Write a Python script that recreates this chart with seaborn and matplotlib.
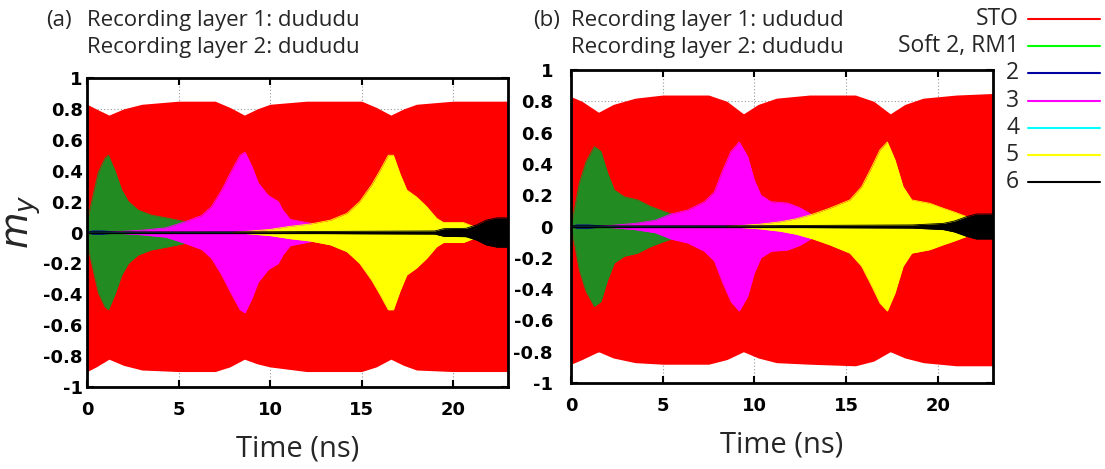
import numpy as np
import matplotlib
matplotlib.use("Agg")
import matplotlib.pyplot as plt
from matplotlib.lines import Line2D
import seaborn as sns

# Envelopes (upper edge) of the fast oscillations.
# Coloured traces are symmetric around 0, so the lower edge is -upper.

# ---- panel (a): layer 1 dududu / layer 2 dududu ----
t_sto_a = [0, 0.5, 1.2, 2, 3, 5, 7, 7.8, 8.6, 9.3, 10, 12, 15, 15.8, 16.6, 17.3, 18, 20, 23]
sto_up_a = [0.83, 0.80, 0.76, 0.80, 0.83, 0.85, 0.85, 0.81, 0.76, 0.80, 0.83, 0.85, 0.85, 0.81, 0.76, 0.80, 0.83, 0.85, 0.85]
sto_lo_a = [-0.90, -0.87, -0.82, -0.86, -0.89, -0.90, -0.90, -0.87, -0.82, -0.85, -0.87, -0.90, -0.90, -0.87, -0.82, -0.86, -0.89, -0.90, -0.90]

t_rm1_a = [0, 0.07, 0.35, 0.62, 0.98, 1.17, 1.53, 1.9, 2.26, 2.8, 3.5, 4.45, 5.36, 6.2, 7.0]
rm1_a = [0.0, 0.10, 0.25, 0.39, 0.48, 0.50, 0.40, 0.275, 0.20, 0.145, 0.113, 0.092, 0.07, 0.04, 0.0]

t_l2_a = [0, 0.3, 0.8, 1.5, 3, 23]
l2_a = [0.0, 0.010, 0.010, 0.005, 0.003, 0.002]

t_l3_a = [1, 3, 4.3, 5.36, 6.27, 6.8, 7.36, 7.9, 8.36, 8.63, 9.0, 9.36, 9.9, 10.45, 10.7, 11.1, 12.2, 13.5, 15, 17]
l3_a = [0.0, 0.015, 0.03, 0.07, 0.11, 0.167, 0.275, 0.40, 0.50, 0.52, 0.43, 0.32, 0.24, 0.20, 0.145, 0.085, 0.06, 0.03, 0.015, 0.0]

t_l4_a = [0, 23]
l4_a = [0.002, 0.002]

t_l5_a = [8, 10, 11.1, 12.2, 13.3, 14.2, 14.9, 15.56, 16.0, 16.46, 16.74, 17.1, 17.47, 18.0, 18.56, 19.1, 19.47, 20.56, 21.1, 21.4]
l5_a = [0.0, 0.02, 0.04, 0.055, 0.08, 0.124, 0.20, 0.31, 0.40, 0.50, 0.50, 0.38, 0.275, 0.23, 0.167, 0.092, 0.065, 0.065, 0.04, 0.0]

t_l6_a = [0, 10, 15, 19, 19.5, 20.7, 21.3, 21.8, 22.4, 23]
l6_a = [0.004, 0.005, 0.008, 0.01, 0.025, 0.027, 0.05, 0.08, 0.095, 0.095]

# ---- panel (b): layer 1 ududud / layer 2 dududu ----
t_sto_b = [0, 0.6, 1.5, 2.3, 3.5, 5, 7.5, 8.5, 9.4, 10.2, 11.2, 13, 15.5, 16.5, 17.4, 18.2, 19.2, 21, 23]
sto_up_b = [0.83, 0.80, 0.73, 0.78, 0.82, 0.84, 0.84, 0.80, 0.72, 0.78, 0.82, 0.84, 0.84, 0.80, 0.72, 0.78, 0.82, 0.84, 0.85]
sto_lo_b = [-0.88, -0.85, -0.80, -0.84, -0.87, -0.88, -0.88, -0.85, -0.80, -0.84, -0.87, -0.88, -0.89, -0.86, -0.80, -0.84, -0.87, -0.89, -0.89]

t_rm1_b = [0, 0.18, 0.45, 0.82, 1.27, 1.63, 2.0, 2.36, 2.9, 3.63, 4.36, 5.09, 5.45, 6.4, 7.3]
rm1_b = [0.0, 0.105, 0.276, 0.414, 0.51, 0.48, 0.34, 0.233, 0.19, 0.17, 0.127, 0.095, 0.08, 0.04, 0.0]

t_l2_b = [0, 0.3, 0.9, 1.6, 3, 23]
l2_b = [0.0, 0.010, 0.010, 0.005, 0.003, 0.002]

t_l3_b = [1.5, 3.5, 4.6, 5.45, 6.36, 7.27, 7.81, 8.27, 8.72, 9.17, 9.63, 9.99, 10.35, 10.9, 11.8, 12.48, 13.2, 14.3, 16, 18]
l3_b = [0.0, 0.02, 0.04, 0.08, 0.105, 0.158, 0.22, 0.36, 0.48, 0.54, 0.446, 0.297, 0.20, 0.158, 0.15, 0.12, 0.07, 0.03, 0.015, 0.0]

t_l4_b = [0, 23]
l4_b = [0.002, 0.002]

t_l5_b = [8.5, 10.3, 11.4, 12.3, 13.2, 14.1, 15.2, 15.84, 16.39, 16.84, 17.24, 17.66, 18.1, 18.57, 19.56, 20.3, 20.83, 21.56, 22.1, 22.4]
l5_b = [0.0, 0.015, 0.03, 0.05, 0.08, 0.117, 0.17, 0.254, 0.38, 0.49, 0.54, 0.425, 0.254, 0.17, 0.148, 0.116, 0.095, 0.063, 0.04, 0.0]

t_l6_b = [0, 10, 15, 18.6, 20.3, 20.9, 21.56, 22.1, 23]
l6_b = [0.004, 0.005, 0.008, 0.01, 0.02, 0.035, 0.063, 0.08, 0.08]

panels = [
    ("(a)", "dududu", "dududu",
     (t_sto_a, sto_up_a, sto_lo_a),
     [(t_rm1_a, rm1_a), (t_l2_a, l2_a), (t_l3_a, l3_a), (t_l4_a, l4_a), (t_l5_a, l5_a), (t_l6_a, l6_a)]),
    ("(b)", "ududud", "dududu",
     (t_sto_b, sto_up_b, sto_lo_b),
     [(t_rm1_b, rm1_b), (t_l2_b, l2_b), (t_l3_b, l3_b), (t_l4_b, l4_b), (t_l5_b, l5_b), (t_l6_b, l6_b)]),
]

legend_names = ["STO", "Soft 2, RM1", "2", "3", "4", "5", "6"]
legend_colors = ["#ff0000", "#00ff00", "#0000a0", "#ff00ff", "#00ffff", "#ffff00", "#000000"]
fill_colors = ["#ff0000", "#228b22", "#0000a0", "#ff00ff", "#00ffff", "#ffff00", "#000000"]

x_ticks = [0, 5, 10, 15, 20]
y_ticks = [-1, -0.8, -0.6, -0.4, -0.2, 0, 0.2, 0.4, 0.6, 0.8, 1]
y_labels = ["-1", "-0.8", "-0.6", "-0.4", "-0.2", "0", "0.2", "0.4", "0.6", "0.8", "1"]

sns.set_theme(style="ticks")
plt.rcParams["font.family"] = ["Open Sans", "DejaVu Sans"]

W, H = 1105, 469
fig = plt.figure(figsize=(W / 100, H / 100), dpi=100)

boxes = [(87, 78, 508, 387), (571, 70, 993, 383)]  # left, top, right, bottom in px
ypads = [3, 13]
tick_font = dict(fontsize=13, fontweight="bold", family="DejaVu Sans")

for i, (tag, l1, l2, sto, traces) in enumerate(panels):
    x0, y0, x1, y1 = boxes[i]
    ax = fig.add_axes([x0 / W, 1 - y1 / H, (x1 - x0) / W, (y1 - y0) / H])
    ax.set_xlim(0, 23)
    ax.set_ylim(-1, 1)
    ax.set_xticks(x_ticks, labels=[str(v) for v in x_ticks], **tick_font)
    ax.set_yticks(y_ticks, labels=y_labels, **tick_font)
    ax.grid(True, color="#999999", linestyle=(0, (1, 2)), linewidth=0.8)
    ax.set_axisbelow(True)

    t, up, lo = sto
    ax.fill_between(t, lo, up, color=fill_colors[0], lw=0, zorder=2)
    for k, (tt, amp) in enumerate(traces):
        amp = np.array(amp)
        c = fill_colors[k + 1]
        ax.fill_between(tt, -amp, amp, color=c, lw=0, zorder=3 + k)
        sns.lineplot(x=tt, y=amp, ax=ax, color=c, lw=0.6, zorder=3 + k, legend=False)
        sns.lineplot(x=tt, y=-amp, ax=ax, color=c, lw=0.6, zorder=3 + k, legend=False)
    ax.axhline(0, color="black", lw=0.9, zorder=10)

    for s in ax.spines.values():
        s.set_linewidth(2)
        s.set_color("black")
        s.set_zorder(20)
    ax.tick_params(direction="in", length=5, width=1.5, top=True, right=True, colors="black")
    ax.tick_params(axis="x", pad=10)
    ax.tick_params(axis="y", pad=ypads[i])
    ax.set_xlabel("Time (ns)", fontsize=21, labelpad=11)
    ax.set_ylabel("")

    tx = 46 if i == 0 else 533
    fig.text(tx / W, 1 - 26 / H, tag, fontsize=16, va="baseline")
    fig.text(x0 / W, 1 - 26 / H, "Recording layer 1: " + l1, fontsize=16, va="baseline")
    fig.text(x0 / W, 1 - 53 / H, "Recording layer 2: " + l2, fontsize=16, va="baseline")

fig.text(24 / W, 1 - 222 / H, "$m_y$", fontsize=27, ha="center", va="center", rotation=90)

for k, (name, c) in enumerate(zip(legend_names, legend_colors)):
    yy = 1 - (19 + 27.2 * k) / H
    fig.text(1019 / W, yy, name, fontsize=16.5, ha="right", va="center")
    fig.add_artist(Line2D([1028 / W, 1100 / W], [yy, yy], color=c, lw=1.5, transform=fig.transFigure))

fig.savefig("out.png", dpi=100)
